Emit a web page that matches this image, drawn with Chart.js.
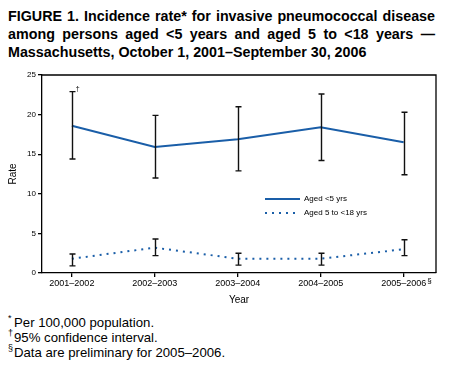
<!DOCTYPE html>
<html><head><meta charset="utf-8">
<script src="https://cdn.jsdelivr.net/npm/chart.js@4/dist/chart.umd.min.js"></script>
<style>
body{margin:0;width:452px;height:371px;position:relative;background:#fff;font-family:"Liberation Sans",Arial,Helvetica,sans-serif;overflow:hidden;color:#000}
#title{position:absolute;left:8px;top:7px;font-weight:bold;font-size:14.3px;line-height:18px}
#title div{white-space:nowrap;display:block;width:max-content}
#notes{position:absolute;left:8px;top:315px;font-size:13.2px;line-height:15px}
#notes div{white-space:nowrap}
#notes sup{font-size:9px;position:relative;top:-1px;vertical-align:super;line-height:0;display:inline-block;width:6px}
canvas{position:absolute;left:0;top:0}
</style></head>
<body>
<div id="title">
<div class="fit">FIGURE 1. Incidence rate* for invasive pneumococcal disease</div>
<div class="fit">among persons aged &lt;5 years and aged 5 to &lt;18 years —</div>
<div>Massachusetts, October 1, 2001–September 30, 2006</div>
</div>
<canvas id="c" width="452" height="310"></canvas>
<div id="notes">
<div><sup>*</sup>Per 100,000 population.</div>
<div><sup>†</sup>95% confidence interval.</div>
<div><sup>§</sup>Data are preliminary for 2005–2006.</div>
</div>
<script>
const categories = ["2001–2002","2002–2003","2003–2004","2004–2005","2005–2006"];
const under5Rate  = [18.6, 15.9, 16.9, 18.4, 16.5];
const under5Low   = [14.4, 12.0, 12.9, 14.2, 12.4];
const under5High  = [22.9, 19.9, 21.0, 22.6, 20.3];
const age5to17Rate = [1.8, 3.2, 1.8, 1.8, 3.0];
const age5to17Low  = [0.9, 2.2, 1.0, 1.0, 2.2];
const age5to17High = [2.4, 4.3, 2.5, 2.5, 4.2];
const yTicks = [0, 5, 10, 15, 20, 25];
const seriesLabels = ["Aged <5 yrs", "Aged 5 to <18 yrs"];

// fit title lines to width
document.querySelectorAll('#title .fit').forEach(el => {
  const target = 427;
  const w = el.getBoundingClientRect().width;
  const gaps = (el.textContent.match(/ /g) || []).length;
  if (gaps) el.style.wordSpacing = ((target - w) / gaps) + 'px';
});

const BLUE = '#1a5ea8';
function pts(vals, lo, hi) { return vals.map((v, i) => ({x: i, y: v, lo: lo[i], hi: hi[i]})); }

const errorBars = {
  id: 'errorBars',
  afterDatasetsDraw(chart) {
    const {ctx, scales: {x, y}} = chart;
    ctx.save();
    ctx.strokeStyle = '#111';
    ctx.lineWidth = 1.4;
    chart.data.datasets.forEach(ds => {
      ds.data.forEach(p => {
        const px = Math.round(x.getPixelForValue(p.x)) + 0.5;
        const yl = y.getPixelForValue(p.lo), yh = y.getPixelForValue(p.hi);
        ctx.beginPath();
        ctx.moveTo(px, yl); ctx.lineTo(px, yh);
        ctx.moveTo(px - 3, yl); ctx.lineTo(px + 3, yl);
        ctx.moveTo(px - 3, yh); ctx.lineTo(px + 3, yh);
        ctx.stroke();
      });
    });
    // frame top and right
    const a = chart.chartArea;
    ctx.lineWidth = 1.3;
    ctx.strokeStyle = '#000';
    ctx.beginPath();
    ctx.moveTo(a.left, a.top); ctx.lineTo(a.right, a.top); ctx.lineTo(a.right, a.bottom);
    ctx.stroke();
    // dagger mark beside first CI
    const d0 = chart.data.datasets[0].data[0];
    ctx.fillStyle = '#000';
    ctx.font = '7px "Liberation Sans", Arial';
    ctx.textBaseline = 'middle';
    ctx.textAlign = 'left';
    ctx.fillText('†', x.getPixelForValue(d0.x) + 4, y.getPixelForValue(d0.hi) - 3);
    // section mark after last x label
    const lastX = x.getPixelForValue(categories.length - 1);
    ctx.font = '9px "Liberation Sans", Arial';
    const lw = ctx.measureText(categories[categories.length - 1]).width;
    ctx.font = '8px "Liberation Sans", Arial';
    ctx.fillText('§', lastX + lw / 2 + 1, a.bottom + 8);
    // legend
    ctx.font = '8px "Liberation Sans", Arial';
    chart.data.datasets.forEach((ds, i) => {
      const ly = 199 + i * 14;
      ctx.save();
      ctx.strokeStyle = ds.borderColor;
      ctx.lineWidth = ds.borderWidth;
      ctx.setLineDash(ds.borderDash || []);
      ctx.beginPath(); ctx.moveTo(265, ly); ctx.lineTo(300, ly); ctx.stroke();
      ctx.restore();
      ctx.fillStyle = '#000';
      ctx.fillText(ds.label, 304, ly);
    });
    ctx.restore();
  }
};

new Chart(document.getElementById('c'), {
  type: 'line',
  data: {
    datasets: [
      {label: seriesLabels[0], data: pts(under5Rate, under5Low, under5High), borderColor: BLUE, borderWidth: 2, pointRadius: 0, tension: 0, fill: false},
      {label: seriesLabels[1], data: pts(age5to17Rate, age5to17Low, age5to17High), borderColor: BLUE, borderWidth: 2, borderDash: [2, 5], pointRadius: 0, tension: 0, fill: false}
    ]
  },
  options: {
    responsive: false,
    animation: false,
    layout: {padding: {top: 75, right: 16, left: 0, bottom: 0}},
    plugins: {legend: {display: false}, tooltip: {enabled: false}},
    scales: {
      x: {
        type: 'linear', min: -0.36, max: 4.39,
        afterBuildTicks: s => { s.ticks = categories.map((c, i) => ({value: i})); },
        afterFit: s => { s.height = 37; },
        ticks: {callback: v => categories[v], color: '#000', font: {size: 9, family: '"Liberation Sans", Arial'}, padding: 1, maxRotation: 0, autoSkip: false},
        grid: {drawOnChartArea: false, tickLength: 4, color: '#000', lineWidth: 1.3},
        border: {color: '#000', width: 1.3},
        title: {display: true, text: 'Year', color: '#000', font: {size: 10, family: '"Liberation Sans", Arial'}, padding: {top: 0, bottom: 4}}
      },
      y: {
        min: 0, max: 25,
        afterBuildTicks: s => { s.ticks = yTicks.map(v => ({value: v})); },
        afterFit: s => { s.width = 42; },
        ticks: {color: '#000', font: {size: 8, family: '"Liberation Sans", Arial'}, padding: 2},
        grid: {drawOnChartArea: false, tickLength: 4, color: '#000', lineWidth: 1.3},
        border: {color: '#000', width: 1.3},
        title: {display: true, text: 'Rate', color: '#000', font: {size: 10, family: '"Liberation Sans", Arial'}, padding: {top: 7, bottom: 0}}
      }
    }
  },
  plugins: [errorBars]
});
</script>
</body></html>
